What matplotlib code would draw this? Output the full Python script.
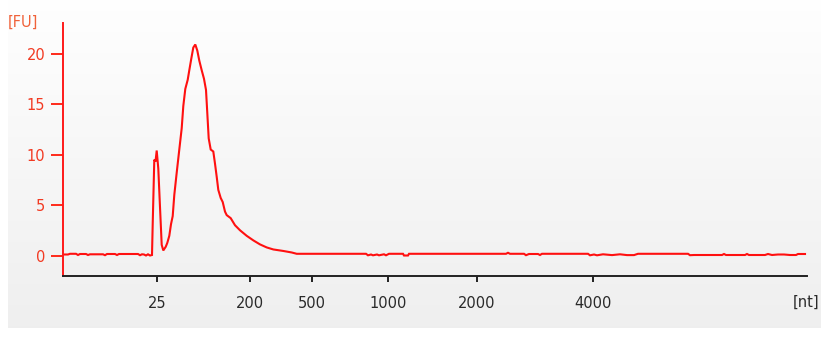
import numpy as np
import matplotlib
matplotlib.use("Agg")
import matplotlib.pyplot as plt

# --- data (position along migration axis, fluorescence units) ---
trace_pos = [0.0, 4.7, 6.7, 12.7, 14.7, 16.7, 22.7, 24.7, 26.7, 39.7, 41.7, 43.7, 51.7, 53.7, 55.7,
             74.7, 76.7, 78.7, 80.7, 82.7, 84.7, 86.7, 88.7,
             89.4, 91.0, 92.2, 93.4, 95.0, 96.7, 98.4, 100.0, 102.4, 104.0, 106.0, 107.7, 109.4, 111.0,
             113.4, 116.0, 118.4, 120.0, 122.0, 124.4, 126.0, 128.0, 130.0, 132.0, 134.0, 136.0, 138.4,
             140.7, 142.7, 144.0, 145.4, 147.4, 150.0, 151.7, 153.4, 155.0, 157.4, 159.4, 161.7, 163.4,
             167.4, 171.7, 176.7, 183.4, 190.0, 196.7, 203.4, 210.0, 220.0, 228.4, 233.4,
             302.7, 304.7, 307.7, 309.7, 313.7, 315.7, 320.7, 322.7, 325.7, 339.7, 340.7, 344.7, 345.7,
             442.7, 444.7, 446.7, 460.7, 462.7, 465.7, 474.7, 476.7, 478.7,
             524.7, 526.7, 530.7, 533.7, 539.7, 548.7, 556.7, 563.7, 570.7, 574.7,
             624.7, 626.7, 630.7, 658.7, 660.7, 662.7, 681.7, 683.7, 685.7, 701.7, 704.7, 708.7,
             714.7, 720.7, 726.7, 732.7, 734.7, 741.7]
trace_fu = [0.10, 0.10, 0.17, 0.17, 0.05, 0.15, 0.15, 0.05, 0.12, 0.12, 0.03, 0.15, 0.15, 0.05, 0.15,
            0.15, 0.03, 0.12, 0.10, 0.00, 0.12, 0.00, 0.05,
            3.1, 9.5, 9.3, 10.4, 8.6, 4.8, 1.06, 0.5, 0.86, 1.25, 1.95, 3.1, 3.9, 6.0,
            8.2, 10.5, 12.6, 14.8, 16.5, 17.4, 18.35, 19.5, 20.6, 20.9, 20.3, 19.3, 18.35,
            17.5, 16.4, 14.1, 11.6, 10.5, 10.3, 9.1, 7.8, 6.5, 5.7, 5.3, 4.35, 4.0,
            3.7, 3.0, 2.5, 1.95, 1.5, 1.1, 0.8, 0.6, 0.45, 0.3, 0.17,
            0.17, 0.02, 0.10, 0.02, 0.10, 0.02, 0.12, 0.02, 0.17, 0.17, 0.00, 0.00, 0.17,
            0.17, 0.27, 0.17, 0.17, 0.03, 0.15, 0.15, 0.05, 0.17,
            0.17, 0.02, 0.10, 0.02, 0.12, 0.04, 0.12, 0.04, 0.04, 0.17,
            0.17, 0.03, 0.05, 0.05, 0.15, 0.05, 0.05, 0.15, 0.05, 0.05, 0.15, 0.05,
            0.10, 0.10, 0.05, 0.05, 0.15, 0.15]

tick_pos = [94.0, 186.7, 248.4, 325.0, 413.4, 530.0]
tick_labels = ["25", "200", "500", "1000", "2000", "4000"]
y_ticks = [0, 5, 10, 15, 20]

W, H = 821, 338
fig = plt.figure(figsize=(W / 100, H / 100), dpi=100, facecolor="white")

# gradient background panel
bg = fig.add_axes([8 / W, 10 / H, 1 - 8 / W, 328 / H])
grad = np.linspace(0.998, 0.937, 256).reshape(-1, 1)
bg.imshow(np.dstack([grad, grad, grad]), aspect="auto", extent=[0, 1, 0, 1])
bg.set_axis_off()

ax = fig.add_axes([63.3 / W, (H - 275.7) / H, (807 - 63.3) / W, (275.7 - 23.3) / H])
ax.patch.set_alpha(0)
ax.plot(trace_pos, trace_fu, color="#ff1010", lw=1.5, solid_joinstyle="miter")
ax.set_xlim(0, 743.7)
ax.set_ylim(-2, 23)

for s in ["top", "right"]:
    ax.spines[s].set_visible(False)
ax.spines["left"].set_color("#ff1a1a")
ax.spines["left"].set_linewidth(1.4)
ax.spines["bottom"].set_color("#222222")
ax.spines["bottom"].set_linewidth(1.4)

ax.set_yticks(y_ticks)
ax.set_yticklabels([str(v) for v in y_ticks])
ax.tick_params(axis="y", colors="#ff2a1a", length=9, width=1.4, pad=4, labelsize=10.5,
               labelcolor="#f23a22")
ax.set_xticks(tick_pos)
ax.set_xticklabels(tick_labels)
ax.tick_params(axis="x", colors="#222222", length=4, width=1.4, pad=10.5, labelsize=10.5,
               labelcolor="#2a2a2a")

fig.text(8 / W, 1 - 22 / H, "[FU]", color="#f0623a", fontsize=10.5, ha="left", va="center")
fig.text(806 / W, 1 - 302 / H, "[nt]", color="#2a2a2a", fontsize=10.5, ha="center", va="center")

fig.savefig("out.png", dpi=100, facecolor="white")
